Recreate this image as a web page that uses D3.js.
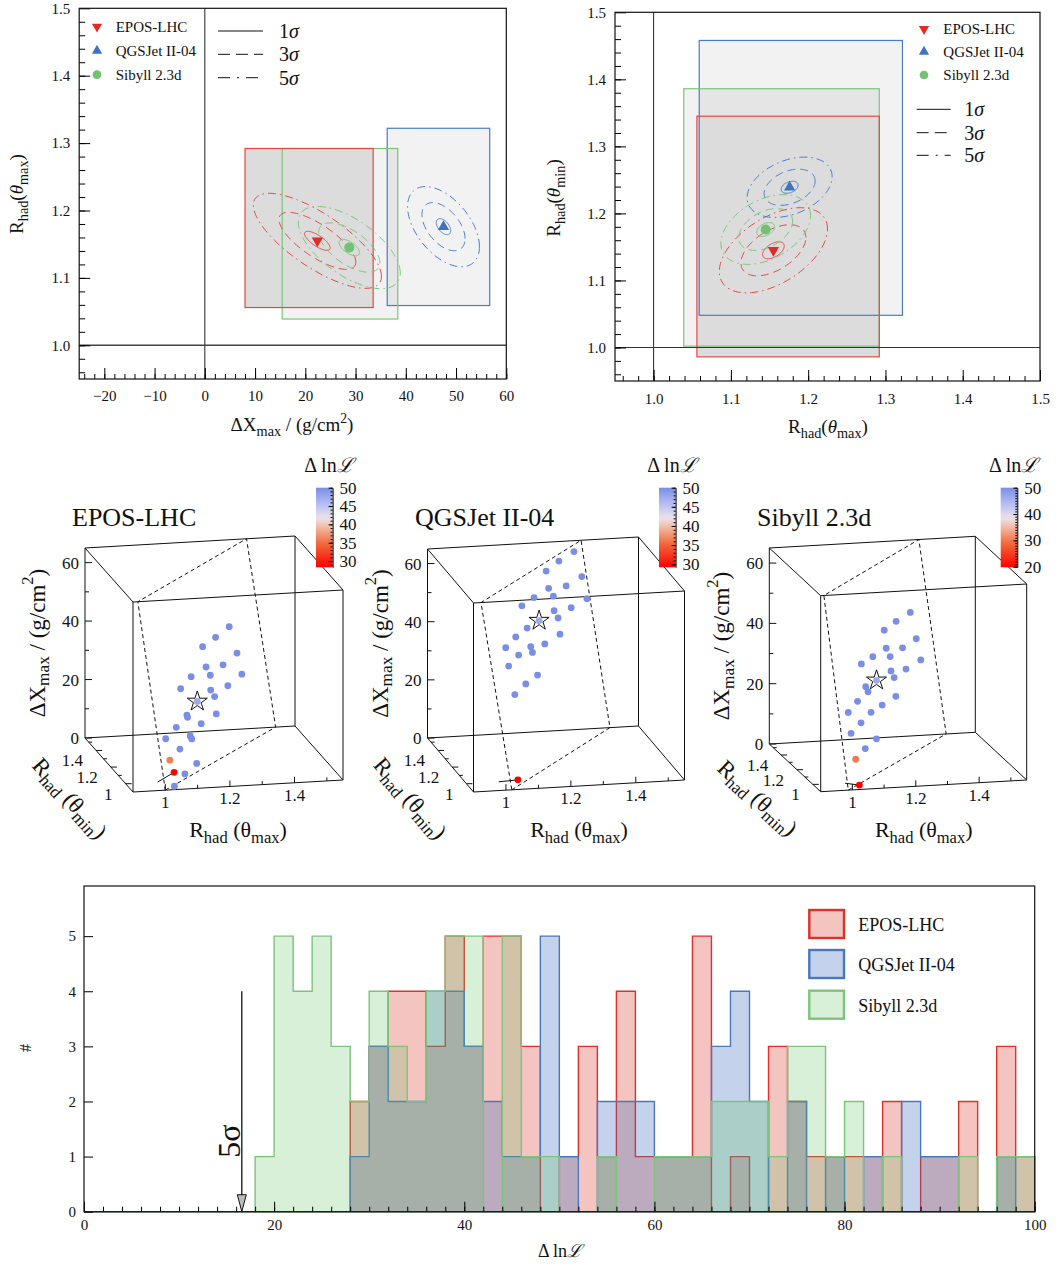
<!DOCTYPE html>
<html>
<head>
<meta charset="utf-8">
<title>Rhad and Xmax fits</title>
<script src="https://cdn.jsdelivr.net/npm/d3@7"></script>
<style>
  body { margin: 0; background: #fff; }
  text { font-family: 'Liberation Serif', 'Times New Roman', 'DejaVu Serif', serif; fill: #111; }
</style>
</head>
<body>
<script>
// ---------------- data ----------------
var models = ["EPOS-LHC", "QGSJet II-04", "Sibyll 2.3d"];

// best fit
var fitDXmax = [22.4, 47.5, 28.75];
var fitRmax = [1.155, 1.176, 1.145];
var fitRmin = [1.145, 1.239, 1.176];

// 1 sigma widths + correlation, left plane (dXmax, Rhad(max))
var sigmaDXmax = [2.55, 1.43, 2.03];
var sigmaRmaxL = [0.0141, 0.0119, 0.0122];
var corrL = [-0.75, -0.5, -0.62];
// right plane (Rhad(max), Rhad(min))
var sigmaRmaxR = [0.014, 0.011, 0.0116];
var sigmaRmin = [0.0127, 0.009, 0.0104];
var corrR = [0.5, 0.35, 0.4];
var sigmaLabels = ["1", "3", "5"];
var sigmaScale = [1, 3, 5];

// allowed ranges
var rangeDXmax = [[8.0, 33.5], [36.3, 56.7], [15.4, 38.4]];
var rangeRmax = [[1.056, 1.292], [1.059, 1.322], [1.039, 1.292]];
var rangeRmin = [[0.986, 1.345], [1.048, 1.458], [1.002, 1.386]];

// scan points (Rhad(max), Rhad(min), dXmax, dlnL)
var scanRmax = [
  [1.307,1.246,1.188,1.336,1.273,1.199,1.353,1.216,1.133,1.290,1.215,1.085,1.231,1.155,1.235,1.107,1.110,1.168,1.059,1.011,1.118,1.124,1.071,1.025,1.141,1.041,1.088,1.040],
  [1.342,1.274,1.216,1.371,1.300,1.223,1.157,1.242,1.389,1.102,1.318,1.242,1.258,1.176,1.120,1.263,1.068,1.022,1.132,1.138,1.194,1.077,1.031,1.156,1.102,1.052,1.047],
  [1.313,1.245,1.187,1.336,1.270,1.193,1.128,1.210,1.353,1.073,1.282,1.211,1.224,1.145,1.089,1.099,1.229,1.048,1.163,1.109,1.002,1.060,1.011,1.129,1.075,1.028,1.040]
];
var scanRmin = [
  [1.378,1.295,1.217,1.399,1.313,1.219,1.408,1.236,1.132,1.322,1.226,1.064,1.243,1.145,1.238,1.076,1.080,1.149,1.010,0.943,1.079,1.084,1.013,0.948,1.092,0.961,1.020,0.952],
  [1.508,1.409,1.323,1.530,1.426,1.320,1.223,1.340,1.540,1.143,1.437,1.330,1.347,1.239,1.151,1.343,1.074,1.004,1.155,1.159,1.241,1.074,1.004,1.169,1.088,1.013,0.947],
  [1.422,1.329,1.247,1.439,1.348,1.246,1.155,1.264,1.450,1.079,1.352,1.257,1.270,1.176,1.088,1.099,1.268,1.027,1.177,1.101,0.960,1.031,0.961,1.113,1.038,0.970,0.972]
];
var scanDXmax = [
  [40.4,39.5,38.9,30.6,29.4,31.8,23.0,28.4,31.4,21.9,23.6,29.5,20.8,22.4,15.0,20.0,19.1,14.6,18.0,16.3,12.7,11.5,10.4,8.7,2.8,4.1,1.6,-0.4],
  [62.5,62.5,61.9,53.1,53.3,56.0,56.0,52.6,45.1,55.8,45.4,47.9,44.8,47.5,47.8,39.3,47.3,45.9,41.2,39.1,39.3,41.0,39.5,30.9,30.5,29.3,1.9],
  [44.3,44.0,43.4,35.0,34.6,37.4,37.2,34.1,27.6,37.0,27.4,29.5,26.9,28.75,29.1,27.1,20.7,26.0,20.4,20.2,24.2,18.7,17.2,11.0,9.9,8.3,-0.4]
];
var scanLnL = [
  [50,50,50,50,50,50,50,50,50,50,50,50,50,50,50,50,50,50,50,50,50,50,50,36,50,28.3,50,50],
  [50,50,50,50,50,50,50,50,50,50,50,50,50,50,50,50,50,50,50,50,50,50,50,50,50,50,29.2],
  [50,50,50,50,50,50,50,50,50,50,50,50,50,50,50,50,50,50,50,50,50,50,50,50,50,30,19.8]
];
var lnLMin = [28.3, 29.2, 19.8];
var lnLMax = [50, 50, 50];
var lnLTicks = [[30, 35, 40, 45, 50], [30, 35, 40, 45, 50], [20, 30, 40, 50]];

// constraint plane corners (Rhad(max), Rhad(min), dXmax)
var planeRmax = [[1.0, 1.49, 1.40, 0.915], [1.018, 1.462, 1.373, 0.923], [0.987, 1.458, 1.372, 0.910]];
var planeRmin = [[0.9, 1.55, 1.55, 0.9], [0.9, 1.55, 1.55, 0.9], [0.9, 1.55, 1.55, 0.9]];
var planeDXmax = [[0, 0, 65, 65], [0, 0, 65, 65], [0, 0, 65, 65]];

// short guide segment at the lowest point
var guideRmax = [[0.99, 1.041], [0.988, 1.047], [0.995, 1.040]];
var guideRmin = [[0.961, 0.961], [0.947, 0.947], [0.972, 0.972]];
var guideDXmax = [[1.1, 4.1], [1.6, 1.9], [0.5, -0.4]];

// histogram of dlnL, bins of width 2 from 0 to 100
var binWidth = 2;
var histLow = d3.range(0, 100, binWidth);
var countsEPOS = [0,0,0,0,0,0,0,0,0,0, 0,0,0,0,2,3,4,4,3,5, 3,5,5,3,0,1,3,1,4,1, 1,1,5,0,1,0,3,2,1,1, 1,1,2,0,1,1,2,0,3,1];
var countsQGS  = [0,0,0,0,0,0,0,0,0,0, 0,0,0,0,1,3,2,2,4,4, 3,2,1,1,5,1,0,2,2,2, 1,1,1,3,4,2,0,2,0,1, 0,1,0,2,1,1,0,0,1,0];
var countsSIB  = [0,0,0,0,0,0,0,0,0,1, 5,4,5,3,2,4,3,2,4,5, 5,0,5,1,1,0,0,1,0,0, 1,1,1,2,2,2,1,3,3,1, 2,0,1,0,0,0,1,0,1,1];
var fiveSigma = 16.6;
var fiveSigmaTop = 4;

// ---------------- style ----------------
var colors = ["#e22b25", "#3f72bf", "#73c273"];
var lineColors = ["#e04a44", "#4a7cc4", "#7cc47c"];
var histFill = ["rgba(220,60,50,0.3)", "rgba(60,110,190,0.3)", "rgba(100,190,100,0.25)"];
var histStroke = ["#e0302a", "#4a78c0", "#7cc47c"];
var dashes = [null, "8,5", "8,4,1.5,4"];
var legendDashes = [null, "12,6", "12,7,2,7"];

var svg = d3.select("body").append("svg").attr("width", 1062).attr("height", 1266);

function richText(parent, x, y, parts, size) {
  var t = parent.append("text").attr("x", x).attr("y", y).attr("font-size", size);
  var shift = 0;
  parts.forEach(function(p) {
    var target = 0, fs = size;
    if (p[1] == "sub") { target = size * 0.28; fs = size * 0.75; }
    if (p[1] == "sup") { target = -size * 0.42; fs = size * 0.72; }
    var s = t.append("tspan").text(p[0]).attr("dy", target - shift).attr("font-size", fs);
    if (p[1] == "it") s.attr("font-style", "italic");
    shift = target;
  });
  return t;
}

function lnLText(parent, x, y, size, anchor) {
  var t = parent.append("text").attr("x", x).attr("y", y).attr("font-size", size).attr("text-anchor", anchor);
  t.append("tspan").text("Δ ln");
  t.append("tspan").attr("font-style", "italic").text("ℒ");
  return t;
}

function frame(g, x, y, o) {
  var x0 = x.range()[0], x1 = x.range()[1], y0 = y.range()[0], y1 = y.range()[1];
  function clean(a) { a.select(".domain").remove(); }
  if (o.xMinor) g.append("g").attr("transform", "translate(0," + y0 + ")")
    .call(d3.axisBottom(x).tickValues(o.xMinor).tickSize(-o.minor).tickSizeOuter(0).tickFormat(""))
    .call(clean);
  g.append("g").attr("transform", "translate(0," + y0 + ")")
    .call(d3.axisBottom(x).tickValues(o.xMajor).tickSize(-o.major).tickSizeOuter(0).tickPadding(o.padX).tickFormat(o.fmtX))
    .call(clean)
    .call(function(a) { a.selectAll("text").attr("font-size", o.font); });
  if (o.yMinor) g.append("g").attr("transform", "translate(" + x0 + ",0)")
    .call(d3.axisLeft(y).tickValues(o.yMinor).tickSize(-o.minorY).tickSizeOuter(0).tickFormat(""))
    .call(clean);
  g.append("g").attr("transform", "translate(" + x0 + ",0)")
    .call(d3.axisLeft(y).tickValues(o.yMajor).tickSize(-o.majorY).tickSizeOuter(0).tickPadding(o.padY).tickFormat(o.fmtY))
    .call(clean)
    .call(function(a) { a.selectAll("text").attr("font-size", o.font); });
  g.append("rect").attr("x", x0).attr("y", y1).attr("width", x1 - x0).attr("height", y0 - y1)
    .attr("fill", "none").attr("stroke", "#111").attr("stroke-width", 1.2);
}

function drawBoxes(g, x, y, rx, ry) {
  [1, 2, 0].forEach(function(m) {
    g.append("rect").attr("x", x(rx[m][0])).attr("y", y(ry[m][1]))
      .attr("width", x(rx[m][1]) - x(rx[m][0])).attr("height", y(ry[m][0]) - y(ry[m][1]))
      .attr("fill", m == 0 ? "#dcdcdc" : "rgba(0,0,0,0.05)");
  });
  [1, 2, 0].forEach(function(m) {
    g.append("rect").attr("x", x(rx[m][0])).attr("y", y(ry[m][1]))
      .attr("width", x(rx[m][1]) - x(rx[m][0])).attr("height", y(ry[m][0]) - y(ry[m][1]))
      .attr("fill", "none").attr("stroke", lineColors[m]).attr("stroke-width", 1.2);
  });
}

function drawContours(g, x, y, cx, cy, sx, sy, rho) {
  var line = d3.line().x(function(d) { return x(d[0]); }).y(function(d) { return y(d[1]); });
  models.forEach(function(_, m) {
    sigmaScale.forEach(function(k, j) {
      var pts = d3.range(0, 361, 3).map(function(a) {
        var t = a * Math.PI / 180;
        return [cx[m] + k * sx[m] * Math.cos(t),
                cy[m] + k * sy[m] * (rho[m] * Math.cos(t) + Math.sqrt(1 - rho[m] * rho[m]) * Math.sin(t))];
      });
      g.append("path").attr("d", line(pts)).attr("fill", "none")
        .attr("stroke", lineColors[m]).attr("stroke-width", 1)
        .attr("stroke-dasharray", dashes[j]);
    });
  });
}

function marker(g, m, px, py, big) {
  var type = m == 2 ? d3.symbolCircle : d3.symbolTriangle;
  var size = m == 2 ? (big ? 80 : 60) : (big ? 55 : 45);
  g.append("path").attr("d", d3.symbol().type(type).size(size)())
    .attr("transform", "translate(" + px + "," + py + ")" + (m == 0 ? " rotate(180)" : ""))
    .attr("fill", colors[m]);
}

function legends(g, mx, my, tx, lx0, lx1, ly, ltx) {
  models.forEach(function(name, m) {
    marker(g, m, mx, my[m], false);
    g.append("text").attr("x", tx).attr("y", my[m] + 5).attr("font-size", 15).text(name);
  });
  sigmaLabels.forEach(function(s, j) {
    g.append("line").attr("x1", lx0).attr("x2", lx1).attr("y1", ly[j]).attr("y2", ly[j])
      .attr("stroke", "#111").attr("stroke-width", 1).attr("stroke-dasharray", legendDashes[j]);
    var t = g.append("text").attr("x", ltx).attr("y", ly[j] + 7).attr("font-size", 20);
    t.append("tspan").text(s);
    t.append("tspan").attr("font-style", "italic").text("σ");
  });
}

// ---------------- top left: dXmax vs Rhad(max) ----------------
var xL = d3.scaleLinear().domain([-25, 60]).range([79.2, 506.3]);
var yL = d3.scaleLinear().domain([0.95, 1.5]).range([379, 8.3]);
var gL = svg.append("g");
drawBoxes(gL, xL, yL, rangeDXmax, rangeRmax);
gL.append("line").attr("x1", xL(0)).attr("x2", xL(0)).attr("y1", yL(0.95)).attr("y2", yL(1.5)).attr("stroke", "#222");
gL.append("line").attr("x1", xL(-25)).attr("x2", xL(60)).attr("y1", yL(1.0)).attr("y2", yL(1.0)).attr("stroke", "#444").attr("stroke-width", 1.6);
drawContours(gL, xL, yL, fitDXmax, fitRmax, sigmaDXmax, sigmaRmaxL, corrL);
models.forEach(function(_, m) { marker(gL, m, xL(fitDXmax[m]), yL(fitRmax[m]), true); });
frame(gL, xL, yL, {
  xMajor: d3.range(-20, 61, 10), xMinor: d3.range(-24, 61, 2), major: 11, minor: 5, padX: 11, fmtX: d3.format("d"),
  yMajor: [1.0, 1.1, 1.2, 1.3, 1.4, 1.5], yMinor: d3.range(0.96, 1.5, 0.02), majorY: 11, minorY: 6, padY: 9, fmtY: d3.format(".1f"),
  font: 15
});
legends(gL, 97, [26.7, 50.7, 74.7], 115.7, 218, 263, [31, 54.3, 77.7], 279);
richText(gL, 292, 431, [["ΔX", ""], ["max", "sub"], [" / (g/cm", ""], ["2", "sup"], [")", ""]], 19).attr("text-anchor", "middle");
richText(gL, 0, 0, [["R", ""], ["had", "sub"], ["(", ""], ["θ", "it"], ["max", "sub"], [")", ""]], 19)
  .attr("text-anchor", "middle").attr("transform", "translate(23,194) rotate(-90)");

// ---------------- top right: Rhad(max) vs Rhad(min) ----------------
var xR = d3.scaleLinear().domain([0.95, 1.5]).range([615, 1040]);
var yR = d3.scaleLinear().domain([0.95, 1.5]).range([381, 12.3]);
var gR = svg.append("g");
drawBoxes(gR, xR, yR, rangeRmax, rangeRmin);
gR.append("line").attr("x1", xR(1.0)).attr("x2", xR(1.0)).attr("y1", yR(0.95)).attr("y2", yR(1.5)).attr("stroke", "#222");
gR.append("line").attr("x1", xR(0.95)).attr("x2", xR(1.5)).attr("y1", yR(1.0)).attr("y2", yR(1.0)).attr("stroke", "#333").attr("stroke-width", 1.2);
drawContours(gR, xR, yR, fitRmax, fitRmin, sigmaRmaxR, sigmaRmin, corrR);
models.forEach(function(_, m) { marker(gR, m, xR(fitRmax[m]), yR(fitRmin[m]), true); });
frame(gR, xR, yR, {
  xMajor: [1.0, 1.1, 1.2, 1.3, 1.4, 1.5], xMinor: d3.range(0.96, 1.5, 0.02), major: 11, minor: 5, padX: 12, fmtX: d3.format(".1f"),
  yMajor: [1.0, 1.1, 1.2, 1.3, 1.4, 1.5], yMinor: d3.range(0.96, 1.5, 0.02), majorY: 11, minorY: 6, padY: 9, fmtY: d3.format(".1f"),
  font: 15
});
legends(gR, 924, [29, 51.7, 75], 943.3, 916.7, 950.7, [109.3, 132.7, 155.3], 964.3);
richText(gR, 828, 433, [["R", ""], ["had", "sub"], ["(", ""], ["θ", "it"], ["max", "sub"], [")", ""]], 19).attr("text-anchor", "middle");
richText(gR, 0, 0, [["R", ""], ["had", "sub"], ["(", ""], ["θ", "it"], ["min", "sub"], [")", ""]], 19)
  .attr("text-anchor", "middle").attr("transform", "translate(560,198) rotate(-90)");

// ---------------- middle: 3D scans ----------------
var cmap = d3.scaleLinear().domain([0, 0.3, 0.5, 0.62, 0.8, 1])
  .range(["#ff0000", "#f06a3c", "#f0b9a0", "#ece2ee", "#b4bcf2", "#7a8ee6"]).clamp(true);

var panels3d = [
  {o: [133, 792], ex: [210, -12], ey: [-48, -54], ez: [0, -190], title: 72, bar: 316},
  {o: [473.5, 792], ex: [211, -12], ey: [-46, -54], ez: [0, -189], title: 415, bar: 659},
  {o: [820.7, 791.7], ex: [206, -11.7], ey: [-51.4, -47.7], ez: [0, -196], title: 757, bar: 1000.7}
];
var fR = d3.scaleLinear().domain([0.9, 1.55]).range([0, 1]);
var fZ = d3.scaleLinear().domain([0, 65]).range([0, 1]);
var defs = svg.append("defs");

models.forEach(function(name, m) {
  var p = panels3d[m];
  var g = svg.append("g");
  function proj(rmax, rmin, dx) {
    var a = fR(rmax), b = fR(rmin), c = fZ(dx);
    return [p.o[0] + a * p.ex[0] + b * p.ey[0] + c * p.ez[0],
            p.o[1] + a * p.ex[1] + b * p.ey[1] + c * p.ez[1]];
  }
  var lo = 0.9, hi = 1.55, zt = 65;
  var R = [lo, hi], Z = [0, zt];
  // wire box
  var edges = [];
  [0, 1].forEach(function(i) { [0, 1].forEach(function(j) {
    edges.push([[R[0], R[i], Z[j]], [R[1], R[i], Z[j]]]);
    edges.push([[R[i], R[0], Z[j]], [R[i], R[1], Z[j]]]);
    edges.push([[R[i], R[j], Z[0]], [R[i], R[j], Z[1]]]);
  }); });
  edges.forEach(function(e) {
    var a = proj.apply(null, e[0]), b = proj.apply(null, e[1]);
    g.append("line").attr("x1", a[0]).attr("y1", a[1]).attr("x2", b[0]).attr("y2", b[1])
      .attr("stroke", "#111").attr("stroke-width", 1);
  });
  // constraint plane
  var plane = planeRmax[m].map(function(v, k) { return proj(v, planeRmin[m][k], planeDXmax[m][k]); });
  g.append("path").attr("d", d3.line()(plane) + "Z").attr("fill", "none")
    .attr("stroke", "#111").attr("stroke-width", 1).attr("stroke-dasharray", "4,3");

  // ticks: Rhad(max) along front bottom edge
  d3.range(1.0, 1.55, 0.1).forEach(function(v, k) {
    var a = proj(v, lo, 0);
    var big = k % 2 == 0;
    g.append("line").attr("x1", a[0]).attr("y1", a[1]).attr("x2", a[0]).attr("y2", a[1] - (big ? 6 : 3.5)).attr("stroke", "#111");
    if (big) g.append("text").attr("x", a[0]).attr("y", a[1] + 18).attr("font-size", 17)
      .attr("text-anchor", "middle").text(d3.format("~g")(+v.toFixed(1)));
  });
  // Rhad(min) along left bottom edge
  d3.range(1.0, 1.55, 0.1).forEach(function(v, k) {
    var a = proj(lo, v, 0);
    var big = k % 2 == 0;
    g.append("line").attr("x1", a[0]).attr("y1", a[1]).attr("x2", a[0] + (big ? 6 : 3.5)).attr("y2", a[1]).attr("stroke", "#111");
    if (big) g.append("text").attr("x", a[0] - 13).attr("y", a[1] + 16).attr("font-size", 17)
      .attr("text-anchor", "end").text(d3.format("~g")(+v.toFixed(1)));
  });
  // dXmax along back left edge
  d3.range(0, 61, 10).forEach(function(v, k) {
    var a = proj(lo, hi, v);
    var big = k % 2 == 0;
    g.append("line").attr("x1", a[0]).attr("y1", a[1]).attr("x2", a[0] + (big ? 7 : 4)).attr("y2", a[1]).attr("stroke", "#111");
    if (big) g.append("text").attr("x", a[0] - 6).attr("y", a[1] + 6).attr("font-size", 17)
      .attr("text-anchor", "end").text(v);
  });

  // axis labels
  var mid = proj((lo + hi) / 2, lo, 0);
  richText(g, mid[0], mid[1] + 51, [["R", ""], ["had", "sub"], [" (", ""], ["θ", ""], ["max", "sub"], [")", ""]], 22)
    .attr("text-anchor", "middle");
  var zm = proj(lo, hi, zt / 2);
  richText(g, 0, 0, [["ΔX", ""], ["max", "sub"], ["  /  (g/cm", ""], ["2", "sup"], [")", ""]], 23)
    .attr("text-anchor", "middle").attr("dominant-baseline", "central")
    .attr("transform", "translate(" + (zm[0] - 48) + "," + zm[1] + ") rotate(-90)");
  var ang = Math.atan2(-p.ey[1], -p.ey[0]) * 180 / Math.PI;
  richText(g, 0, 0, [["R", ""], ["had", "sub"], [" (", ""], ["θ", ""], ["min", "sub"], [")", ""]], 23)
    .attr("text-anchor", "middle").attr("dominant-baseline", "central")
    .attr("transform", "translate(" + (p.o[0] - 63) + "," + (p.o[1] + 6) + ") rotate(" + ang + ")");

  // title
  g.append("text").attr("x", p.title).attr("y", 526).attr("font-size", 26).text(name);

  // colour bar
  var c = d3.scaleLinear().domain([lnLMin[m], lnLMax[m]]).range([0, 1]);
  var grad = defs.append("linearGradient").attr("id", "cb" + m)
    .attr("x1", 0).attr("y1", 1).attr("x2", 0).attr("y2", 0);
  d3.range(0, 1.001, 0.05).forEach(function(t) {
    grad.append("stop").attr("offset", t).attr("stop-color", cmap(t));
  });
  var bs = d3.scaleLinear().domain([lnLMin[m], lnLMax[m]]).range([567.3, 487.7]);
  g.append("rect").attr("x", p.bar).attr("y", 487.7).attr("width", 16.6).attr("height", 567.3 - 487.7)
    .attr("fill", "url(#cb" + m + ")");
  var ax = g.append("g").attr("transform", "translate(" + (p.bar + 16.6) + ",0)");
  ax.call(d3.axisRight(bs).tickValues(d3.range(Math.ceil(lnLMin[m]), 51, 1)).tickSize(-2).tickSizeOuter(0).tickFormat(""));
  var ax2 = g.append("g").attr("transform", "translate(" + (p.bar + 16.6) + ",0)");
  ax2.call(d3.axisRight(bs).tickValues(lnLTicks[m]).tickSize(-4).tickSizeOuter(0).tickPadding(7));
  ax2.select(".domain").remove();
  ax2.selectAll("text").attr("font-size", 17);
  lnLText(g, p.bar + 13, 472, 20, "middle");

  // guide segment
  var ga = proj(guideRmax[m][0], guideRmin[m][0], guideDXmax[m][0]);
  var gb = proj(guideRmax[m][1], guideRmin[m][1], guideDXmax[m][1]);
  g.append("line").attr("x1", ga[0]).attr("y1", ga[1]).attr("x2", gb[0]).attr("y2", gb[1]).attr("stroke", "#111");

  // scan points
  scanRmax[m].forEach(function(v, k) {
    var a = proj(v, scanRmin[m][k], scanDXmax[m][k]);
    g.append("circle").attr("cx", a[0]).attr("cy", a[1]).attr("r", 3.4)
      .attr("fill", cmap(c(scanLnL[m][k])));
  });
  var s = proj(fitRmax[m], fitRmin[m], fitDXmax[m]);
  g.append("path").attr("d", d3.symbol().type(d3.symbolStar).size(125)())
    .attr("transform", "translate(" + s[0] + "," + s[1] + ")")
    .attr("fill", "rgba(255,255,255,0.25)").attr("stroke", "#111").attr("stroke-width", 1);
});

// ---------------- bottom: histogram ----------------
var xH = d3.scaleLinear().domain([0, 100]).range([84, 1034.7]);
var yH = d3.scaleLinear().domain([0, 5.91]).range([1211.7, 886]);
var gH = svg.append("g");
var counts = [countsEPOS, countsQGS, countsSIB];
var stepLine = d3.line().x(function(d) { return xH(d[0]); }).y(function(d) { return yH(d[1]); });
counts.forEach(function(cs, m) {
  var pts = [[0, 0]];
  cs.forEach(function(c, i) { pts.push([histLow[i], c]); pts.push([histLow[i] + binWidth, c]); });
  pts.push([100, 0]);
  gH.append("path").attr("d", stepLine(pts) + "Z").attr("fill", histFill[m])
    .attr("stroke", histStroke[m]).attr("stroke-width", 1.4).attr("stroke-linejoin", "miter");
});
frame(gH, xH, yH, {
  xMajor: d3.range(0, 101, 20), xMinor: d3.range(0, 101, 2), major: 10, minor: 5, padX: 8, fmtX: d3.format("d"),
  yMajor: [0, 1, 2, 3, 4, 5], yMinor: null, majorY: 9, minorY: 0, padY: 8, fmtY: d3.format("d"),
  font: 15
});
// 5 sigma arrow
var ax5 = xH(fiveSigma);
gH.append("line").attr("x1", ax5).attr("x2", ax5).attr("y1", yH(fiveSigmaTop)).attr("y2", yH(0) - 16)
  .attr("stroke", "#111").attr("stroke-width", 1.3);
gH.append("path").attr("d", "M" + (ax5 - 4.5) + "," + (yH(0) - 17) + "L" + (ax5 + 4.5) + "," + (yH(0) - 17) + "L" + ax5 + "," + yH(0) + "Z")
  .attr("fill", "#bbb").attr("stroke", "#111").attr("stroke-width", 1);
var t5 = gH.append("text").attr("font-size", 32).attr("text-anchor", "middle").attr("dominant-baseline", "central")
  .attr("transform", "translate(229,1141) rotate(-90)");
t5.append("tspan").text("5");
t5.append("tspan").text("σ");
// legend
var legY = [910, 950, 990.7];
models.forEach(function(name, m) {
  gH.append("rect").attr("x", 809.3).attr("y", legY[m]).attr("width", 34.7).attr("height", 28)
    .attr("fill", histFill[m]).attr("stroke", histStroke[m]).attr("stroke-width", 2.4);
  gH.append("text").attr("x", 858.3).attr("y", legY[m] + 21).attr("font-size", 18).text(name);
});
gH.append("text").attr("font-size", 16).attr("text-anchor", "middle").attr("transform", "translate(31,1048) rotate(-90)").text("#");
lnLText(gH, 560, 1257, 18, "middle");
</script>
</body>
</html>
